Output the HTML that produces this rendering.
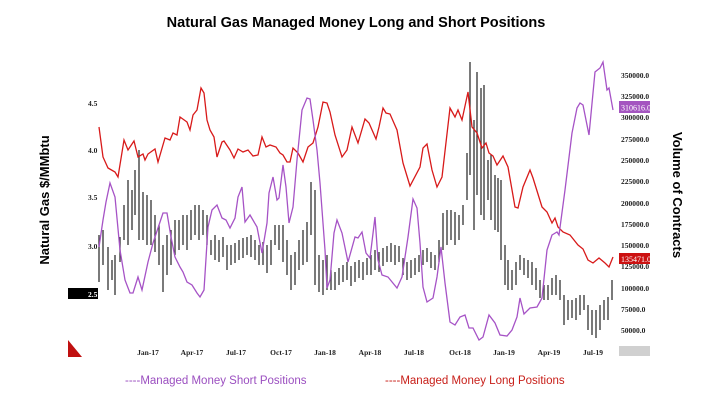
<!DOCTYPE html>
<html><head><meta charset="utf-8"><style>
body{margin:0;background:#fff;}
svg{display:block;}
</style></head><body>
<svg id="s" width="712" height="401" xmlns="http://www.w3.org/2000/svg">
<rect width="712" height="401" fill="#fff"/>
<text x="356" y="27" text-anchor="middle" font-family="Liberation Sans, sans-serif" font-weight="bold" font-size="14.5">Natural Gas Managed Money Long and Short Positions</text>
<text transform="translate(49,200) rotate(-90)" text-anchor="middle" font-family="Liberation Sans, sans-serif" font-weight="bold" font-size="13">Natural Gas $/MMbtu</text>
<text transform="translate(673,195) rotate(90)" text-anchor="middle" font-family="Liberation Sans, sans-serif" font-weight="bold" font-size="13">Volume of Contracts</text>
<g font-family="Liberation Serif, serif" font-weight="bold" font-size="7.5" fill="#222">
<text x="88" y="106">4.5</text><text x="88" y="153">4.0</text><text x="88" y="200">3.5</text><text x="88" y="249">3.0</text>
<rect x="68" y="288" width="30" height="11" fill="#000"/><text x="88" y="297" fill="#fff">2.5</text>
<g text-anchor="middle">
<text x="148" y="355">Jan-17</text><text x="192" y="355">Apr-17</text><text x="236" y="355">Jul-17</text><text x="281" y="355">Oct-17</text><text x="325" y="355">Jan-18</text><text x="370" y="355">Apr-18</text><text x="414" y="355">Jul-18</text><text x="460" y="355">Oct-18</text><text x="504" y="355">Jan-19</text><text x="549" y="355">Apr-19</text><text x="593" y="355">Jul-19</text>
</g>
<text x="621" y="78">350000.0</text><text x="621" y="99">325000.0</text><text x="621" y="120">300000.0</text><text x="621" y="142">275000.0</text><text x="621" y="163">250000.0</text><text x="621" y="184">225000.0</text><text x="621" y="206">200000.0</text><text x="621" y="227">175000.0</text><text x="621" y="248">150000.0</text><text x="621" y="269">125000.0</text><text x="621" y="291">100000.0</text><text x="621" y="312">75000.0</text><text x="621" y="333">50000.0</text>
</g>
<rect x="619" y="101" width="31" height="12" fill="#a455c0"/>
<text x="621" y="110.5" font-family="Liberation Serif, serif" font-size="8" fill="#fff">310616.0</text>
<rect x="619" y="253" width="31" height="11" fill="#cc1111"/>
<text x="621" y="262" font-family="Liberation Serif, serif" font-size="8" fill="#fff">135471.0</text>
<rect x="619" y="346" width="31" height="10" fill="#d0d0d0"/>
<polygon points="68,340 68,357 82,357" fill="#c01010"/>
<g id="bars" stroke="#333" stroke-width="1.3"></g>
<polyline id="red" fill="none" stroke="#d81a1a" stroke-width="1.3"/>
<polyline id="pur" fill="none" stroke="#a653c6" stroke-width="1.3"/>
<text x="125" y="384" font-family="Liberation Sans, sans-serif" font-size="11.5" fill="#9b4fc0">----Managed Money Short Positions</text>
<text x="385" y="384" font-family="Liberation Sans, sans-serif" font-size="11.5" fill="#c8201a">----Managed Money Long Positions</text>
</svg>
<script>
var red=[[99,127],[103,157],[108,168],[115,172],[118,177],[124,140],[128,150],[134,141],[138,157],[143,154],[145,160],[148,154],[155,149],[158,162],[165,138],[170,140],[173,133],[177,135],[180,117],[187,122],[190,130],[193,115],[197,110],[201,88],[204,93],[207,120],[210,130],[214,137],[217,157],[222,142],[224,141],[230,150],[234,158],[238,149],[243,152],[248,150],[253,156],[258,155],[262,137],[266,147],[270,145],[276,147],[280,153],[283,155],[287,162],[290,162],[293,148],[298,153],[303,162],[308,147],[313,143],[318,127],[323,102],[327,103],[330,112],[335,135],[342,157],[347,150],[352,127],[358,143],[365,119],[369,123],[376,139],[379,127],[383,108],[386,113],[390,114],[397,130],[403,163],[410,186],[420,167],[423,148],[427,144],[432,170],[437,187],[442,177],[450,108],[455,117],[458,110],[462,120],[468,92],[472,127],[477,133],[482,148],[486,143],[489,153],[493,156],[497,165],[503,156],[508,167],[515,207],[518,208],[523,187],[530,170],[533,178],[542,207],[547,212],[552,223],[555,218],[558,227],[563,232],[570,235],[578,245],[583,249],[588,260],[593,263],[599,258],[605,263],[609,267],[613,257]];
var pur=[[99,247],[103,220],[106,202],[110,183],[115,197],[120,250],[125,280],[130,293],[133,293],[138,277],[142,290],[148,262],[153,243],[158,228],[163,213],[167,213],[171,237],[175,257],[180,267],[183,272],[187,282],[192,285],[197,293],[200,297],[204,290],[208,227],[212,210],[217,205],[222,218],[226,220],[230,228],[235,218],[238,197],[242,187],[245,222],[250,215],[257,227],[262,253],[267,223],[269,193],[273,177],[277,200],[279,198],[283,165],[286,187],[289,223],[293,207],[297,160],[302,110],[307,98],[310,99],[313,120],[317,150],[320,183],[325,250],[327,288],[330,280],[334,233],[337,220],[342,233],[348,262],[355,237],[358,238],[362,232],[366,253],[370,258],[375,217],[378,260],[382,275],[388,277],[397,288],[402,277],[408,237],[413,199],[417,208],[420,243],[423,287],[427,302],[433,298],[437,277],[441,247],[445,283],[450,322],[455,325],[460,317],[465,315],[469,328],[473,328],[479,340],[483,337],[489,315],[495,323],[500,335],[507,336],[512,330],[517,317],[520,298],[524,314],[530,308],[537,307],[542,298],[547,250],[552,235],[557,232],[559,235],[565,190],[572,133],[577,108],[580,103],[583,105],[589,135],[595,72],[600,68],[603,62],[607,90],[609,88],[613,110]];
document.getElementById('red').setAttribute('points',red.map(p=>p.join(',')).join(' '));
document.getElementById('pur').setAttribute('points',pur.map(p=>p.join(',')).join(' '));
var b=[[99,235,282],[103,230,265],[108,247,290],[112,260,280],[115,255,295],[120,237,262],[124,205,240],[128,180,245],[132,190,230],[135,170,215],[139,150,240],[143,192,240],[147,195,245],[151,200,245],[155,215,252],[159,225,265],[163,245,292],[167,235,275],[171,230,265],[175,220,255],[179,220,250],[183,215,245],[187,215,250],[191,210,240],[195,205,235],[199,205,240],[203,210,235],[207,215,245],[211,240,255],[215,235,260],[219,240,262],[223,237,257],[227,245,270],[231,245,265],[235,243,263],[239,240,260],[243,238,258],[247,237,255],[251,235,257],[255,240,260],[259,245,265],[263,242,265],[267,245,273],[271,240,265],[275,225,245],[279,225,250],[283,225,262],[287,240,275],[291,255,290],[295,252,285],[299,240,270],[303,230,265],[307,222,262],[311,182,235],[315,190,285],[319,255,292],[323,260,295],[327,255,290],[331,270,290],[335,272,290],[339,268,285],[343,265,282],[347,262,280],[351,266,286],[355,262,282],[359,260,278],[363,262,280],[367,258,275],[371,255,275],[375,250,270],[379,252,272],[383,248,266],[387,246,262],[391,243,262],[395,245,265],[399,246,262],[403,258,275],[407,262,280],[411,260,278],[415,258,275],[419,255,272],[423,250,265],[427,248,262],[431,252,268],[435,255,270],[439,240,262],[443,213,250],[447,210,245],[451,210,240],[455,212,245],[459,215,240],[463,205,225],[467,153,200],[470,62,175],[474,120,230],[477,72,195],[481,88,215],[484,85,220],[488,160,200],[491,155,220],[495,175,230],[498,178,232],[501,180,260],[505,245,285],[508,260,290],[512,270,290],[516,262,285],[520,255,270],[524,258,275],[528,260,278],[532,262,285],[536,268,290],[540,280,298],[544,285,300],[548,285,300],[552,278,295],[556,275,295],[560,280,300],[564,295,325],[568,300,320],[572,300,318],[576,298,320],[580,295,315],[584,295,310],[588,305,330],[592,310,335],[596,310,338],[600,305,330],[604,300,320],[608,297,320],[612,280,300]];
var g=document.getElementById('bars'),h='';
b.forEach(function(p){h+='<line x1="'+p[0]+'" y1="'+p[1]+'" x2="'+p[0]+'" y2="'+p[2]+'"/>';});
g.innerHTML=h;
</script>
</body></html>
